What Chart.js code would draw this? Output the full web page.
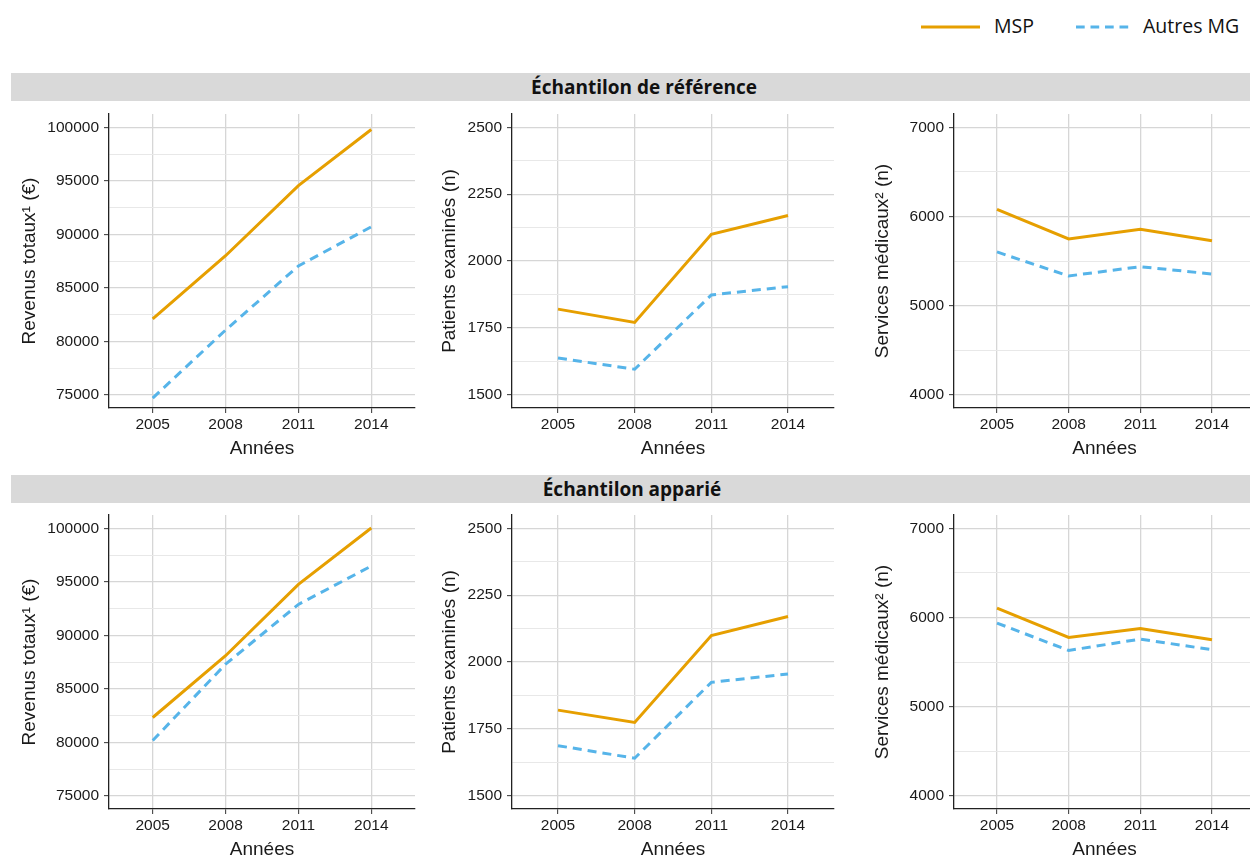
<!DOCTYPE html>
<html>
<head>
<meta charset="utf-8">
<script src="https://cdn.jsdelivr.net/npm/chart.js@4.4.1/dist/chart.umd.min.js"></script>
<style>
html,body{margin:0;padding:0;background:#fff;width:1250px;height:860px;overflow:hidden;position:relative;}
.strip{position:absolute;left:11px;width:1270px;height:28px;background:#d9d9d9;}
.strip span{position:absolute;top:0;line-height:29px;font-family:'Open Sans',sans-serif;font-weight:700;font-size:19px;color:#111;transform:translateX(-50%);white-space:nowrap;}
canvas.panel{position:absolute;}
.leg{position:absolute;font-family:'Open Sans',sans-serif;font-size:19.5px;color:#111;line-height:24px;white-space:nowrap;}
svg.legline{position:absolute;}
</style>
</head>
<body>
<svg class="legline" style="left:921px;top:25px" width="60" height="4"><line x1="0" y1="2" x2="59" y2="2" stroke="#E69F00" stroke-width="3"/></svg>
<div class="leg" style="left:994px;top:14px">MSP</div>
<svg class="legline" style="left:1076px;top:25px" width="54" height="4"><line x1="0" y1="2" x2="53" y2="2" stroke="#56B4E9" stroke-width="3" stroke-dasharray="8.7 5.8"/></svg>
<div class="leg" style="left:1143px;top:14px">Autres MG</div>

<div class="strip" style="top:73px"><span style="left:633px">Échantilon de référence</span></div>
<div class="strip" style="top:475px"><span style="left:621px">Échantilon apparié</span></div>

<canvas class="panel" id="p1"></canvas>
<canvas class="panel" id="p2"></canvas>
<canvas class="panel" id="p3"></canvas>
<canvas class="panel" id="p4"></canvas>
<canvas class="panel" id="p5"></canvas>
<canvas class="panel" id="p6"></canvas>

<script>
// ---- data ----
const years = ['2005', '2008', '2011', '2014'];

// Échantilon de référence
const refRevenusMSP     = [82100, 88000, 94550, 99800];
const refRevenusAutres  = [74700, 81050, 87050, 90700];
const refPatientsMSP    = [1820, 1770, 2100, 2170];
const refPatientsAutres = [1637, 1595, 1873, 1904];
const refServicesMSP    = [6080, 5748, 5857, 5729];
const refServicesAutres = [5603, 5334, 5438, 5356];

// Échantilon apparié
const appRevenusMSP     = [82320, 88090, 94760, 100030];
const appRevenusAutres  = [80170, 87300, 92890, 96470];
const appPatientsMSP    = [1820, 1774, 2099, 2170];
const appPatientsAutres = [1687, 1640, 1924, 1955];
const appServicesMSP    = [6106, 5777, 5878, 5751];
const appServicesAutres = [5938, 5631, 5758, 5639];

const revenusTicks  = [75000, 80000, 85000, 90000, 95000, 100000];
const patientsTicks = [1500, 1750, 2000, 2250, 2500];
const servicesTicks = [4000, 5000, 6000, 7000];

const revenusRange  = [73770, 101243];
const patientsRange = [1450, 2550];
const servicesRange = [3854, 7149];

const seriesNames = ['MSP', 'Autres MG'];
const xTitle = 'Années';
const yTitles = ['Revenus totaux¹ (€)', 'Patients examinés (n)', 'Services médicaux² (n)'];

// ---- drawing ----
const TICK_FONT = {family: "'Liberation Sans', Arial, sans-serif", size: 15.5};
const TITLE_FONT = {family: "'Liberation Sans', Arial, sans-serif", size: 19};
const TXT = '#1a1a1a';

function makePanel(id, geom, msp, autres, yTicks, yRange, yTitle) {
  const cv = document.getElementById(id);
  cv.width = geom.w; cv.height = 360;
  cv.style.left = geom.left + 'px'; cv.style.top = geom.top + 'px';
  cv.style.width = geom.w + 'px'; cv.style.height = '360px';
  const minor = yTicks.slice(0, -1).map((v, i) => (v + yTicks[i + 1]) / 2);
  new Chart(cv.getContext('2d'), {
    type: 'line',
    data: {
      datasets: [
        {label: seriesNames[0], data: msp.map((v, i) => ({x: i, y: v})),
         borderColor: '#E69F00', borderWidth: 3, pointRadius: 0, pointHoverRadius: 0, tension: 0, fill: false},
        {label: seriesNames[1], data: autres.map((v, i) => ({x: i, y: v})),
         borderColor: '#56B4E9', borderWidth: 3, borderDash: [9, 6], pointRadius: 0, pointHoverRadius: 0, tension: 0, fill: false}
      ]
    },
    options: {
      responsive: false, animation: false, devicePixelRatio: 1,
      layout: {autoPadding: false, padding: {top: 10, right: geom.padR, left: 0, bottom: 0}},
      plugins: {legend: {display: false}, tooltip: {enabled: false}},
      scales: {
        x: {
          type: 'linear', min: -0.6, max: 3.6,
          afterBuildTicks: s => { s.ticks = years.map((y, i) => ({value: i})); },
          afterFit: s => { s.height = 56; s.paddingLeft = 0; s.paddingRight = 0; },
          ticks: {callback: v => years[v], font: TICK_FONT, color: TXT, padding: 2, maxRotation: 0, autoSkip: false},
          grid: {color: '#d6d6d6', lineWidth: 1.3, tickColor: '#333', tickLength: 5, tickWidth: 1},
          border: {color: '#222', width: 1.3},
          title: {display: true, text: xTitle, font: TITLE_FONT, color: TXT, padding: {top: 0, bottom: 4}}
        },
        y: {
          type: 'linear', min: yRange[0], max: yRange[1],
          afterBuildTicks: s => {
            s.ticks = yTicks.map(v => ({value: v, minor: false}))
              .concat(minor.map(v => ({value: v, minor: true})))
              .sort((a, b) => a.value - b.value);
          },
          afterFit: s => { s.width = geom.yW; s.paddingTop = 0; s.paddingBottom = 0; },
          ticks: {callback: (v, i, t) => t[i].minor ? '' : String(v), font: TICK_FONT, color: TXT, padding: 5, autoSkip: false},
          grid: {
            color: c => (c.tick && c.tick.minor) ? '#e8e8e8' : '#d6d6d6',
            lineWidth: c => (c.tick && c.tick.minor) ? 1 : 1.3,
            tickColor: c => (c.tick && c.tick.minor) ? 'rgba(0,0,0,0)' : '#333',
            tickLength: 5, tickWidth: 1
          },
          border: {color: '#222', width: 1.3},
          title: {display: true, text: yTitle, font: TITLE_FONT, color: TXT, padding: {top: geom.tPad, bottom: 0}}
        }
      }
    }
  });
}

const colGeom = [
  {left: 10,  w: 410, yW: 99,  padR: 5, tPad: 8.6},
  {left: 420, w: 420, yW: 92,  padR: 6, tPad: 18.6},
  {left: 840, w: 415, yW: 114, padR: 0, tPad: 31.6}
];
const rowTops = [104, 505];
function g(c, r) { return Object.assign({top: rowTops[r]}, colGeom[c]); }

makePanel('p1', g(0, 0), refRevenusMSP,  refRevenusAutres,  revenusTicks,  revenusRange,  yTitles[0]);
makePanel('p2', g(1, 0), refPatientsMSP, refPatientsAutres, patientsTicks, patientsRange, yTitles[1]);
makePanel('p3', g(2, 0), refServicesMSP, refServicesAutres, servicesTicks, servicesRange, yTitles[2]);
makePanel('p4', g(0, 1), appRevenusMSP,  appRevenusAutres,  revenusTicks,  revenusRange,  yTitles[0]);
makePanel('p5', g(1, 1), appPatientsMSP, appPatientsAutres, patientsTicks, patientsRange, yTitles[1]);
makePanel('p6', g(2, 1), appServicesMSP, appServicesAutres, servicesTicks, servicesRange, yTitles[2]);
</script>
</body>
</html>
